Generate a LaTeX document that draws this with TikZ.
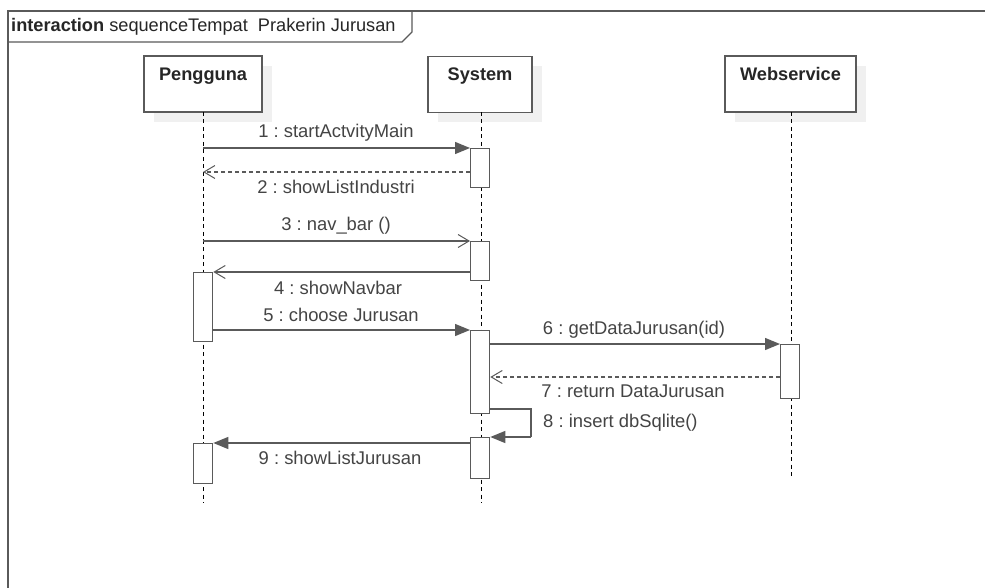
\documentclass[tikz,border=0pt]{standalone}
\usepackage{fontspec}
\setmainfont{Liberation Sans}
\frenchspacing
\usetikzlibrary{arrows.meta}
\definecolor{ln}{HTML}{5A5A5A}
\definecolor{tx}{HTML}{444444}
\tikzset{
  lifebox/.style={draw=ln,line width=1.3pt,fill=white,minimum width=#1,minimum height=56pt,inner sep=0pt},
  shadowbox/.style={fill=black!6,draw=none,minimum width=#1,minimum height=56pt,inner sep=0pt},
  actbox/.style={draw=ln,line width=1.3pt,fill=white,minimum width=19pt,minimum height=#1,inner sep=0pt},
  lifeline/.style={draw=black,line width=1pt,dash pattern=on 4pt off 3.5pt},
  sync/.style={draw=ln,line width=1.3pt,-{Triangle[length=15pt,width=12pt]}},
  open/.style={draw=ln,line width=1.3pt,-{Straight Barb[length=11pt,width=13pt,line width=1pt]}},
  reply/.style={draw=ln,line width=1.3pt,dash pattern=on 4pt off 3pt,-{Straight Barb[length=11pt,width=13pt,line width=1pt]}},
  msg/.style={text=tx,font=\fontsize{18.4}{21}\selectfont,inner sep=0pt},
  head/.style={text=black!85,font=\fontsize{18.2}{21}\selectfont\bfseries,inner sep=0pt},
}
\begin{document}
\begin{tikzpicture}[x=1pt,y=-1pt]
\useasboundingbox (0,0) rectangle (985,588);
\fill[white] (0,0) rectangle (985,588);
% frame
\draw[ln,line width=1.5pt] (990,11) -- (8,11) -- (8,600);
\draw[ln,line width=1.3pt] (8,42) -- (402,42) -- (412,32) -- (412,11);
\node[anchor=west,inner sep=0pt,text=black!85,font=\fontsize{18.2}{21}\selectfont] (title) at (11,27)
  {\textbf{interaction} sequenceTempat\ \ Prakerin Jurusan};
% shadows
\node[shadowbox=118pt] at (213,94) {};
\node[shadowbox=104pt] at (490,94) {};
\node[shadowbox=131pt] at (800,94) {};
% lifelines
\coordinate (pEnd) at (203,503);
\coordinate (sEnd) at (481,503);
\coordinate (wEnd) at (791,477);
\node[lifebox=118pt] (peng) at (203,84) {};
\node[lifebox=104pt] (sys) at (480,84.5) {};
\node[lifebox=131pt] (web) at (790.5,84) {};
\node[head,anchor=base] (pengT) at (203,81) {Pengguna};
\node[head,anchor=base] (sysT) at (480,81) {System};
\node[head,anchor=base] (webT) at (790.5,81) {Webservice};
\draw[lifeline] (203,112) -- (pEnd);
\draw[lifeline] (481,112) -- (sEnd);
\draw[lifeline] (791,112) -- (wEnd);
% activations
\node[actbox=39pt,anchor=north west] (s1) at (470,148) {};
\node[actbox=39pt,anchor=north west] (s2) at (470,241) {};
\node[actbox=69pt,anchor=north west] (p1) at (193,272) {};
\node[actbox=83pt,anchor=north west] (s3) at (470,330) {};
\node[actbox=54pt,anchor=north west] (w1) at (780,344) {};
\node[actbox=41pt,anchor=north west] (s4) at (470,437) {};
\node[actbox=40pt,anchor=north west] (p2) at (193,443) {};
% lifeline anchors
\coordinate (pl1) at (203,148);
\coordinate (pl2) at (203,172);
\coordinate (pl3) at (203,241);
\coordinate (sr8) at (531,409);
\coordinate (sr8b) at (531,437);
% messages
\draw[sync] (pl1) -- (s1.north west);
\draw[reply] (s1.west |- pl2) -- (pl2);
\draw[open] (pl3) -- (s2.north west);
\draw[open] (s2.west |- p1.north) -- (p1.north east);
\draw[sync] (p1.east |- s3.north) -- (s3.north west);
\draw[sync] (s3.east |- w1.north) -- (w1.north west);
\draw[reply] (w1.west |- 0,377) -- (s3.east |- 0,377);
\draw[line width=1.3pt,ln] (s3.east |- sr8) -- (sr8) -- (sr8b);
\draw[sync] (sr8b) -- (s4.north east);
\draw[sync] (s4.west |- p2.north) -- (p2.north east);
% labels
\node[msg] (m1) at (336,133) {1 : startActvityMain};
\node[msg] (m2) at (336,187) {2 : showListIndustri};
\node[msg] (m3) at (336,226) {3 : nav\_bar ()};
\node[msg] (m4) at (338,288) {4 : showNavbar};
\node[msg] (m5) at (341,315) {5 : choose Jurusan};
\node[msg] (m6) at (634,330) {6 : getDataJurusan(id)};
\node[msg] (m7) at (633,391) {7 : return DataJurusan};
\node[msg,anchor=west] (m8) at (543,423) {8 : insert dbSqlite()};
\node[msg] (m9) at (340,458) {9 : showListJurusan};
\end{tikzpicture}
\end{document}
